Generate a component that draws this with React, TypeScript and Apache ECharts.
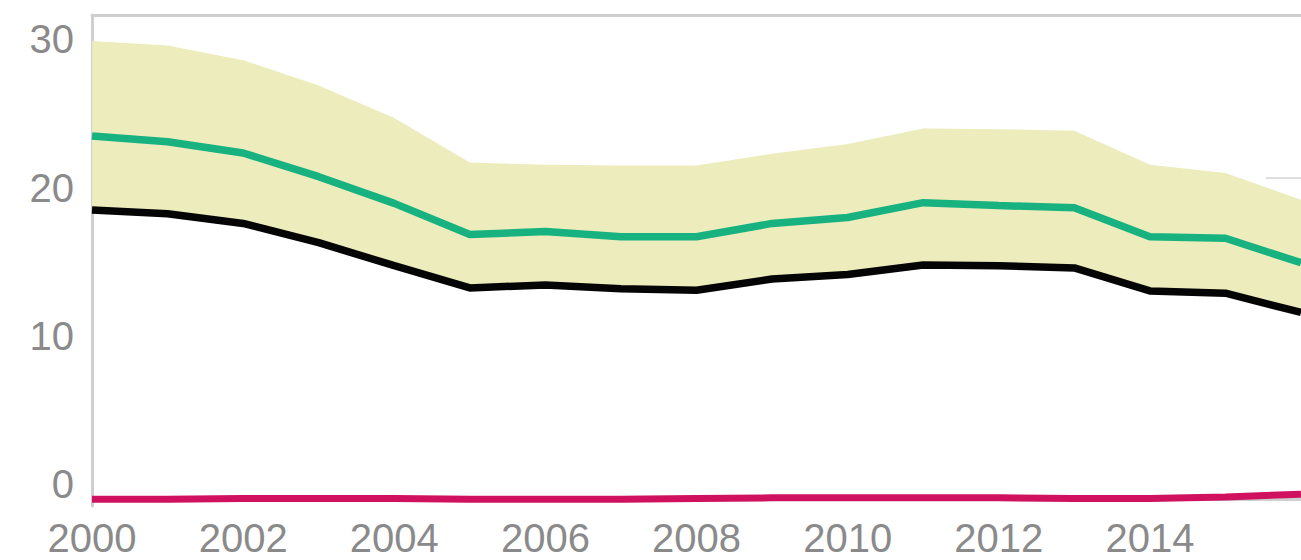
import React, { useEffect, useRef } from "react";
import * as echarts from "echarts";

// Years on the horizontal axis
const years = [
  "2000", "2001", "2002", "2003", "2004", "2005", "2006", "2007", "2008",
  "2009", "2010", "2011", "2012", "2013", "2014", "2015", "2016",
];

// Lower edge of the shaded range (drawn as the black line)
const lowerLine = [
  19.5, 19.25, 18.6, 17.3, 15.75, 14.25, 14.45, 14.2, 14.1,
  14.85, 15.15, 15.8, 15.75, 15.6, 14.05, 13.9, 12.6,
];

// Central estimate (green line)
const centralLine = [
  24.5, 24.1, 23.35, 21.75, 19.95, 17.85, 18.05, 17.7, 17.7,
  18.6, 19.0, 20.0, 19.8, 19.65, 17.7, 17.6, 15.95,
];

// Upper edge of the shaded range
const upperBound = [
  30.9, 30.6, 29.6, 27.9, 25.7, 22.7, 22.55, 22.5, 22.5,
  23.3, 23.95, 25.0, 24.95, 24.85, 22.55, 22.0, 20.2,
];

// Baseline series (pink line)
const baseLine = [
  0, 0, 0.05, 0.05, 0.05, 0, 0, 0, 0.05,
  0.1, 0.1, 0.1, 0.1, 0.05, 0.05, 0.15, 0.35,
];

// Value-axis tick labels
const yTickValues = [0, 10, 20, 30];

const labelFont = "'Liberation Sans', Arial, Helvetica, sans-serif";
const axisGray = "#cfcfcf";
const labelGray = "#8a8a8a";

export default function App() {
  const ref = useRef<HTMLDivElement | null>(null);

  useEffect(() => {
    if (!ref.current) return;
    const chart = echarts.init(ref.current, undefined, { renderer: "svg" });

    const bandWidth = upperBound.map((u, i) => +(u - lowerLine[i]).toFixed(3));

    chart.setOption({
      animation: false,
      backgroundColor: "#ffffff",
      grid: { left: 92, right: 0, top: 15, bottom: 54, containLabel: false },
      xAxis: [
        {
          type: "category",
          data: years,
          boundaryGap: false,
          position: "bottom",
          axisLine: { show: true, lineStyle: { color: axisGray, width: 3 } },
          axisTick: { show: false },
          splitLine: { show: false },
          axisLabel: {
            interval: (index: number, value: string) =>
              index % 2 === 0 && value !== "2016",
            margin: 15,
            color: labelGray,
            fontFamily: labelFont,
            fontSize: 40,
            lineHeight: 34,
          },
        },
        {
          type: "category",
          data: years,
          boundaryGap: false,
          position: "top",
          axisLine: { show: true, lineStyle: { color: axisGray, width: 3 } },
          axisTick: { show: false },
          axisLabel: { show: false },
          splitLine: { show: false },
        },
      ],
      yAxis: {
        type: "value",
        min: -0.45,
        max: 32.65,
        axisLine: { show: true, lineStyle: { color: axisGray, width: 3 } },
        axisTick: { show: false },
        splitLine: { show: false },
        axisLabel: {
          customValues: yTickValues,
          margin: 18,
          color: labelGray,
          fontFamily: labelFont,
          fontSize: 40,
          verticalAlign: "bottom",
          lineHeight: 30,
        },
      },
      graphic: [
        {
          type: "line",
          shape: { x1: 1266, y1: 178, x2: 1301, y2: 178 },
          style: { stroke: "#dedede", lineWidth: 2 },
          z: 0,
        },
      ],
      series: [
        {
          name: "range-base",
          type: "line",
          data: lowerLine,
          stack: "range",
          symbol: "none",
          lineStyle: { width: 0, opacity: 0 },
          areaStyle: { opacity: 0 },
          silent: true,
          z: 1,
        },
        {
          name: "range",
          type: "line",
          data: bandWidth,
          stack: "range",
          symbol: "none",
          lineStyle: { width: 0, opacity: 0 },
          areaStyle: { color: "#ececbd", opacity: 1 },
          silent: true,
          z: 1,
        },
        {
          name: "central",
          type: "line",
          data: centralLine,
          symbol: "none",
          clip: false,
          lineStyle: { color: "#17b27f", width: 7.5 },
          z: 3,
        },
        {
          name: "lower",
          type: "line",
          data: lowerLine,
          symbol: "none",
          clip: false,
          lineStyle: { color: "#050505", width: 7.5 },
          z: 4,
        },
        {
          name: "baseline",
          type: "line",
          data: baseLine,
          symbol: "none",
          clip: false,
          lineStyle: { color: "#cf1160", width: 7 },
          z: 5,
        },
      ],
    });

    return () => {
      chart.dispose();
    };
  }, []);

  return (
    <div
      ref={ref}
      style={{ position: "fixed", left: 0, top: 0, width: 1301, height: 560 }}
    />
  );
}
